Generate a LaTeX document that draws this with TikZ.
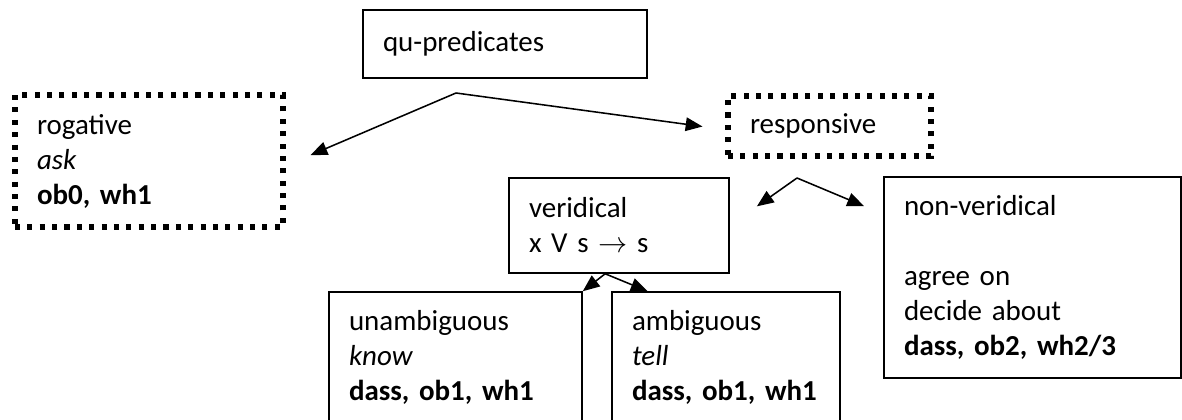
\documentclass[tikz,border=0pt]{standalone}
\usepackage{fontspec}
\setmainfont{Carlito}
\usetikzlibrary{arrows.meta}

\tikzset{
  catbox/.style={draw, line width=1.1pt, rectangle, inner xsep=0.5cm, inner ysep=0pt, align=left, font=\fontsize{20.6pt}{24.9pt}\selectfont},
  dotbox/.style={catbox, line width=3.6pt, dash pattern=on 3.6pt off 5.2pt, inner xsep=0.55cm},
  splitarrow/.style={line width=1.1pt, -{Triangle[length=0.42cm, width=0.34cm]}}
}

\begin{document}
\begin{tikzpicture}%
\clip (0,0) rectangle (29.55,-10.475);%
\node[catbox, minimum width=7.1cm, minimum height=1.7cm, text width=6.1cm] (qu) at (12.625, -1.1) {qu-predicates};%
\node[dotbox, minimum width=6.7cm, minimum height=3.3cm, text width=5.6cm] (rog) at (3.725, -4.025) {rogative\\\textit{ask}\\\textbf{ob0, wh1}};%
\node[dotbox, minimum width=5.075cm, minimum height=1.5cm, text width=3.975cm] (resp) at (20.7375, -3.15) {responsive};%
\node[catbox, minimum width=5.5cm, minimum height=2.375cm, text width=4.5cm] (ver) at (15.475, -5.6375) {veridical\\x V s $\rightarrow$ s};%
\node[catbox, minimum width=7.425cm, minimum height=5.025cm, text width=6.425cm] (nonver) at (25.8125, -6.9375) {non-veridical\\[24.9pt]agree on\\decide about\\\textbf{dass, ob2, wh2/3}};%
\node[catbox, minimum width=6.325cm, minimum height=3.25cm, text width=5.325cm] (unamb) at (11.3875, -8.925) {unambiguous\\\textit{know}\\\textbf{dass, ob1, wh1}};%
\node[catbox, minimum width=5.7cm, minimum height=3.25cm, text width=4.7cm] (amb) at (18.15, -8.925) {ambiguous\\\textit{tell}\\\textbf{dass, ob1, wh1}};%
% split points of the arrows
\coordinate (qusplit) at (11.4, -2.325);%
\coordinate (respsplit) at (19.925, -4.45);%
\draw[splitarrow, shorten >=0.68cm] (qusplit) -- (rog.-2);%
\draw[splitarrow, shorten >=0.58cm] (qusplit) -- (resp.182);%
\draw[splitarrow, shorten >=0.83cm] (respsplit) -- (ver.east);%
\draw[splitarrow, shorten >=0.52cm] (respsplit) -- (nonver.157.6);%
\draw[splitarrow] (ver.-106) -- (unamb.north east);%
\draw[splitarrow] (ver.-106) -- (amb.140);%
\end{tikzpicture}
\end{document}
